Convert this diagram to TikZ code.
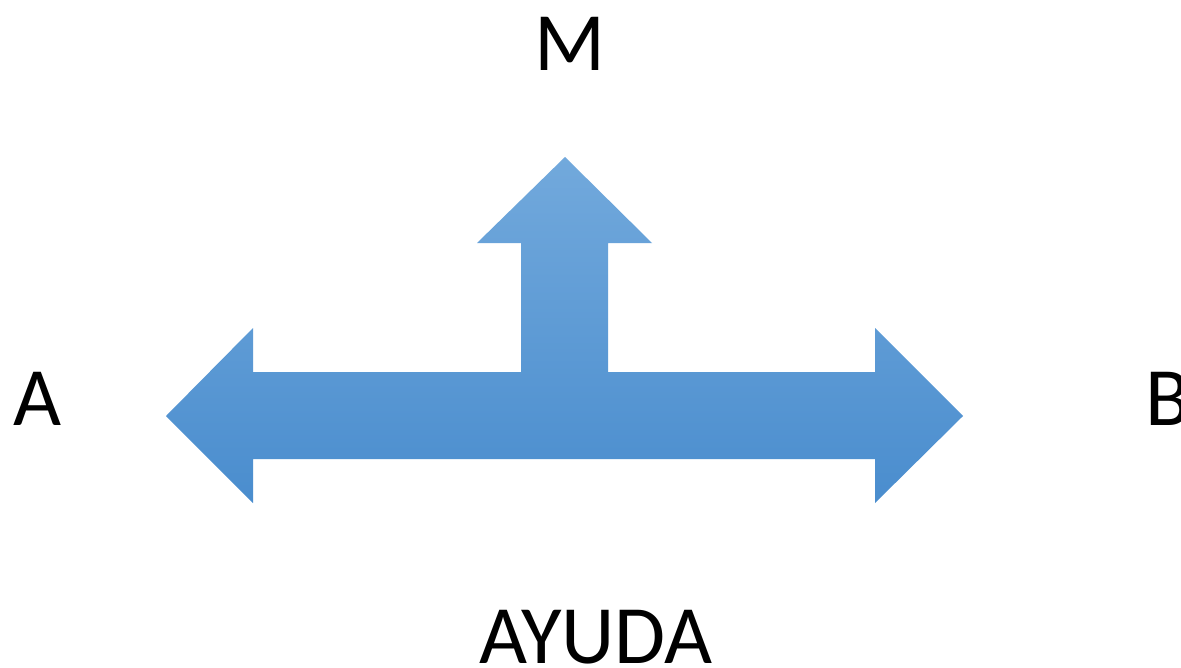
\documentclass[tikz,border=0pt]{standalone}
\usepackage{fontspec}
\setmainfont{Carlito}
\definecolor{arrtop}{HTML}{72A9DC}
\definecolor{arrbot}{HTML}{4A8DCE}
\begin{document}
\begin{tikzpicture}[x=1pt,y=-1pt,
  lbl/.style={inner sep=0pt,font=\fontsize{83}{90}\selectfont,text=black}]
\useasboundingbox (0,0) rectangle (1181,667);
\fill[white] (0,0) rectangle (1181,667);
\shade[top color=arrtop,bottom color=arrbot]
  (565,157) -- (652,243) -- (608,243) -- (608,372) -- (875,372) -- (875,328)
  -- (963,416) -- (875,503) -- (875,459) -- (253,459) -- (253,503)
  -- (166,416) -- (253,328) -- (253,372) -- (521,372) -- (521,243)
  -- (477,243) -- cycle;
\node[lbl,anchor=base] (m) at (570,70) {M};
\node[lbl,anchor=base] (a) at (38,425) {A};
\node[lbl,anchor=base west] (b) at (1145,425) {B};
\node[lbl,anchor=base] (ayuda) at (596,663) {AYUDA};
\end{tikzpicture}
\end{document}
